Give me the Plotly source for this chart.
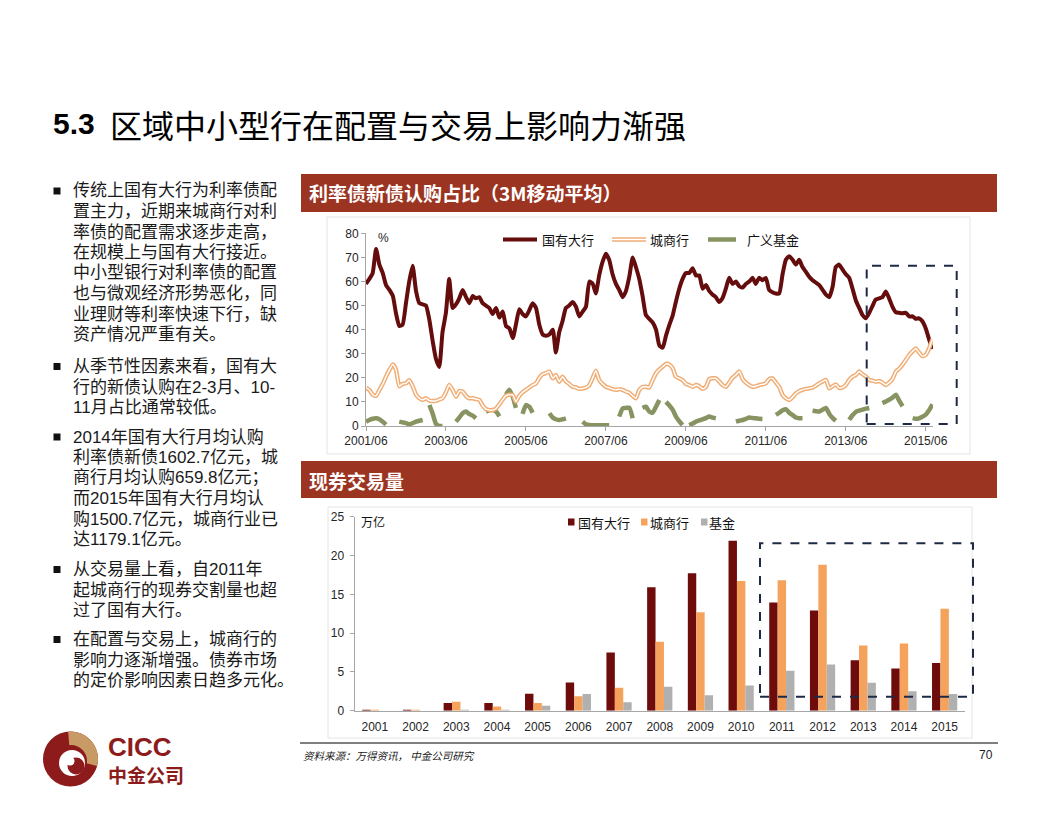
import math
import pandas as pd
import plotly.graph_objects as go

W, H = 1056, 816
# the page body keeps its default 8px margin, so the figure sits 8px in from the window corner
OX, OY = 8, 8


def px(x):
    return (x - OX) / W


def py(y):
    return 1 - (y - OY) / H


N = None

# ---------------- data: top chart (3M moving average share, %) ----------------
months = pd.date_range("2001-06-01", periods=171, freq="MS")

big_banks = [
    59, 61, 63.5, 73.5, 67, 63.5, 58.5, 56.5, 54, 47, 41.5, 42,
    51, 60, 66.5, 56, 51, 50.5, 50, 44, 35, 28, 24.5, 39,
    47, 61, 49, 50.5, 53, 56.5, 53.5, 51, 54, 53, 53.5, 51,
    50, 49, 46.5, 49, 45, 47.5, 41.5, 40.5, 36.5, 42, 48.5, 46.5,
    45.5, 48, 51, 49, 42, 38, 37.5, 38, 40, 30.5, 39, 43.5,
    49, 50, 51.5, 49.5, 45.5, 47.5, 49.5, 60, 59, 55, 62.5, 68,
    71.5, 69, 63, 59, 56.5, 53.5, 56, 62, 70, 66, 61, 54,
    46, 44.5, 43, 40, 33.5, 32.5, 37.5, 42, 46, 51.5, 57, 61,
    63.5, 63.5, 65.5, 62.5, 62.5, 57, 58.5, 56, 54.5, 53.5, 51.5, 53,
    57, 61.5, 59, 60, 58, 57.5, 59, 60, 61.5, 59, 61.5, 60.5,
    61.5, 56.5, 55.5, 55, 55, 63, 69, 70.5, 69, 67, 69, 66,
    64, 62, 60.5, 59.5, 58.5, 56.5, 54.5, 53.5, 58, 66, 67, 65,
    63, 61.5, 57, 52, 49, 46, 44.7, 47, 50, 52.5, 53, 53.5,
    55.8, 53, 49.5, 47.2, 47, 46.8, 47, 45.5, 45.5, 44.5, 44.7, 43.5,
    40.5, 36, 32,
]

city_banks = [
    16, 15, 13, 12.5, 15, 17.5, 20.5, 23.3, 25.6, 23.5, 16.5, 17.5,
    17.7, 19, 16.5, 13, 11.5, 10.8, 11.5, 10.5, 10.4, 10.4, 11, 11.5,
    14, 17, 15, 12.2, 14.5, 14.3, 12.5, 11.5, 11.5, 11.2, 10.8, 8.5,
    7, 6.6, 6.6, 7.3, 9, 11, 12.6, 13, 12.9, 10.1, 12.5, 14,
    15, 16, 17, 17.7, 20, 21.5, 22, 22.6, 19.8, 21.2, 18.4, 20.5,
    18.5, 17.5, 16.3, 16, 15.4, 15.6, 15.9, 17, 20, 23, 19.1, 17.5,
    16.3, 15.8, 15.3, 15, 15.3, 15, 14.3, 13.8, 12.5, 11.5, 15, 16.2,
    16.3, 16, 19, 21.9, 23.5, 24.6, 25.8, 25.5, 23.9, 20.5, 19.8, 19.1,
    17.5, 17, 16.3, 17, 16.5, 15.4, 16.3, 19.5, 19.8, 19.8, 18.5, 17,
    16.3, 18, 20, 21.2, 22.6, 19.5, 18, 17, 16.3, 16.5, 17, 17.3,
    17.7, 19.5, 19.8, 18, 16.3, 12.9, 11.5, 10.8, 12, 13.5, 14.5, 15,
    15.4, 15.6, 15.9, 16.8, 17.7, 18.5, 19.1, 15.6, 16.5, 17.3, 15.8, 16,
    17, 19.1, 20.5, 21.2, 22.6, 21.5, 20.5, 19.1, 18.8, 18.4, 18.7, 18,
    17, 18, 19.5, 22.6, 23.8, 25.5, 27.4, 29.5, 31, 32.2, 30.5, 29,
    29.5, 32.2, 36,
]

broad_funds = [
    1.8, 2.5, 3, 3.2, 2.8, 1.8, 0.6, N, N, N, 1.8, 1.5,
    1.2, 0.7, 1.2, 1.8, 2.2, 2.5, N, 8.7, 5, 1, 0, 0,
    N, N, N, 1.8, 3.5, 5.3, 6, 5, 4.3, 3.2, N, N,
    6, 6.5, 6.6, 6, 4, N, 13, 15, 12, 7.5, N, 5,
    8.7, 8, 5.5, N, N, N, N, 5.3, 3.5, 2.8, 2.5, 2.8,
    3.2, N, N, N, N, 1.8, 0.7, 0.4, 0.3, 0.3, 0.3, 0.3,
    0.3, 0.3, N, N, 3.9, 7.3, 7.5, 7.6, 3.2, N, N, 7.5,
    8, 6, 5.5, 8, 10.8, N, 10, 8.5, 6.7, 4, 2, 0.4,
    N, 0.4, 1, 1.8, 2.3, 2.8, 3.3, 3.9, 3.5, 3.2, N, N,
    N, N, N, 1.8, 2.2, 2.5, 3, 3.5, 3.3, 3.2, 3, 2.9,
    N, N, N, 4.6, 5.5, 6.5, 7, 5.5, 4.5, 3.5, 3.2, 3.2,
    N, N, 6.3, 6.1, 6, 6.8, 7.5, 5, 3.3, 2.2, N, N,
    N, 2.6, 4.5, 5.9, 6.4, 6.8, 7.2, 7.5, N, N, N, 9.5,
    10.2, 10.9, 11.8, 13, 10.5, 8.2, N, N, 3.3, 3, 3.2, 3.8,
    4.7, 6.5, 9,
]

top_tick_labels = ["2001/06", "2003/06", "2005/06", "2007/06",
                   "2009/06", "2011/06", "2013/06", "2015/06"]
top_tick_vals = [t.replace("/", "-") + "-01" for t in top_tick_labels]

# ---------------- data: bottom chart (spot trading volume, 万亿) ----------------
years = ["2001", "2002", "2003", "2004", "2005", "2006", "2007", "2008",
         "2009", "2010", "2011", "2012", "2013", "2014", "2015"]
vol_big = [0.02, 0.1, 1.0, 1.0, 2.2, 3.65, 7.5, 15.9, 17.7, 21.9, 13.95, 12.9, 6.5, 5.45, 6.15]
vol_city = [0.01, 0.04, 1.15, 0.55, 1.0, 1.85, 2.95, 8.9, 12.7, 16.7, 16.8, 18.8, 8.4, 8.65, 13.15]
vol_fund = [0.0, 0.0, 0.05, 0.1, 0.65, 2.15, 1.1, 3.1, 2.0, 3.25, 5.15, 5.95, 3.6, 2.5, 2.15]

# ---------------- styles ----------------
RED = "#650D0D"
ORANGE_LINE = "#F0AE76"
GREEN = "#879462"
BAR_RED = "#6E0B0B"
BAR_ORANGE = "#F5A25C"
BAR_GRAY = "#B0B0B0"
HEADER = "#9B3522"
NAVY = "#1E2A45"
AXIS = "#A6A6A6"
CJK = "Noto Sans CJK SC"
LAT = "Liberation Sans"
MIX = "Liberation Sans, Noto Sans CJK SC"

fig = go.Figure()

# top chart traces
fig.add_trace(go.Scatter(x=months, y=broad_funds, mode="lines", connectgaps=False,
                         line=dict(color=GREEN, width=4.5, shape="spline", smoothing=0.5),
                         xaxis="x", yaxis="y", showlegend=False, name="广义基金"))
fig.add_trace(go.Scatter(x=months, y=big_banks, mode="lines",
                         line=dict(color=RED, width=4, shape="spline", smoothing=0.5),
                         xaxis="x", yaxis="y", showlegend=False, name="国有大行"))
fig.add_trace(go.Scatter(x=months, y=city_banks, mode="lines",
                         line=dict(color=ORANGE_LINE, width=4.4, shape="spline", smoothing=0.5),
                         xaxis="x", yaxis="y", showlegend=False, name="城商行"))
fig.add_trace(go.Scatter(x=months, y=city_banks, mode="lines",
                         line=dict(color="white", width=1.4, shape="spline", smoothing=0.5),
                         xaxis="x", yaxis="y", showlegend=False, hoverinfo="skip"))

# bottom chart traces
for vals, col, name in [(vol_big, BAR_RED, "国有大行"), (vol_city, BAR_ORANGE, "城商行"),
                        (vol_fund, BAR_GRAY, "基金")]:
    fig.add_trace(go.Bar(x=years, y=vals, marker=dict(color=col, line=dict(width=0)),
                         xaxis="x2", yaxis="y2", showlegend=False, name=name))

tickfont = dict(family=LAT, size=12, color="#262626")
common = dict(showline=True, linecolor=AXIS, linewidth=1, showgrid=False,
              zeroline=False, tickfont=tickfont, automargin=False)

fig.update_layout(
    width=W, height=H, autosize=False,
    margin=dict(l=0, r=0, t=0, b=0, pad=0, autoexpand=False),
    paper_bgcolor="white", plot_bgcolor="white",
    bargap=0.38, bargroupgap=0, barmode="group",
    xaxis=dict(domain=[px(366), px(933)], type="date",
               range=["2001-06-01", "2015-08-06"],
               tickvals=top_tick_vals, ticktext=top_tick_labels,
               ticks="outside", ticklen=4, tickcolor=AXIS, anchor="y", **common),
    yaxis=dict(domain=[py(426), py(233.3)], range=[0, 80], dtick=10,
               ticks="outside", ticklen=4, tickcolor=AXIS, anchor="x", **common),
    xaxis2=dict(domain=[px(354.5), px(965)], type="category",
                categoryorder="array", categoryarray=years,
                ticks="outside", ticklen=5, tickcolor="rgba(0,0,0,0)",
                anchor="y2", **common),
    yaxis2=dict(domain=[py(710.7), py(516.7)], range=[0, 25], dtick=5,
                ticks="outside", ticklen=4, tickcolor=AXIS, ticklabelstandoff=3,
                anchor="x2", **common),
)

shapes = []


def rect(x0, y0, x1, y1, **kw):
    d = dict(type="rect", xref="paper", yref="paper",
             x0=px(x0), x1=px(x1), y0=py(y1), y1=py(y0))
    d.update(kw)
    shapes.append(d)


def hline(x0, x1, y, color, width, dash="solid"):
    shapes.append(dict(type="line", xref="paper", yref="paper",
                       x0=px(x0), x1=px(x1), y0=py(y), y1=py(y),
                       line=dict(color=color, width=width, dash=dash)))


# chart frames
rect(327, 217, 970, 454, line=dict(color="#E4E4E4", width=1), layer="below")
rect(328, 507, 972, 738, line=dict(color="#E4E4E4", width=1), layer="below")
# headers
rect(301, 174, 997, 212, fillcolor=HEADER, line=dict(width=0))
rect(301, 461, 997, 498, fillcolor=HEADER, line=dict(width=0))
# dashed highlight boxes
rect(866.7, 265.7, 956.7, 424, line=dict(color=NAVY, width=2, dash="dash"))
rect(760, 543.3, 973, 696.7, line=dict(color=NAVY, width=2, dash="dash"))
# footer rule
hline(300, 998, 743, "#000000", 1)
# top legend samples
hline(503, 537, 239.5, RED, 4)
hline(612, 646, 239.5, ORANGE_LINE, 4.4)
hline(612, 646, 239.5, "white", 1.4)
hline(708, 736, 239.5, GREEN, 4.5)
# bottom legend squares
rect(568, 518.5, 574.5, 525.5, fillcolor=BAR_RED, line=dict(width=0))
rect(641, 518.5, 647.5, 525.5, fillcolor=BAR_ORANGE, line=dict(width=0))
rect(701, 518.5, 707.5, 525.5, fillcolor=BAR_GRAY, line=dict(width=0))
# bullets
bullet_y = [191, 366.5, 437, 569.5, 639.5]
for by in bullet_y:
    rect(53.5, by - 3.5, 60.5, by + 3.5, fillcolor="#111111", line=dict(width=0))


# logo
def circle(cx, cy, r, color):
    shapes.append(dict(type="circle", xref="paper", yref="paper",
                       x0=px(cx - r), x1=px(cx + r), y0=py(cy + r), y1=py(cy - r),
                       fillcolor=color, line=dict(width=0)))


LOGO_RED = "#8E1B1B"
LOGO_GOLD = "#C89B66"
circle(70.5, 759, 27.5, LOGO_RED)
pts = [(70.5, 759)]
for i in range(0, 31):
    a = math.radians(-15 + i * (110 / 30))
    pts.append((70.5 + 27.5 * math.cos(a), 759 - 27.5 * math.sin(a)))
path = "M " + " L ".join(f"{px(x):.5f},{py(y):.5f}" for x, y in pts) + " Z"
shapes.append(dict(type="path", xref="paper", yref="paper", path=path,
                   fillcolor=LOGO_GOLD, line=dict(width=0)))
circle(71, 761, 16, LOGO_RED)
circle(72, 763, 13, "white")
circle(76, 766, 8.5, LOGO_RED)
circle(70, 761, 4.5, "white")

fig.update_layout(shapes=shapes)

ann = []


def text(x, y, s, size, color="#111111", family=CJK, xanchor="left", yanchor="middle",
         bold=False, italic=False, align="left"):
    if bold:
        s = f"<b>{s}</b>"
    if italic:
        s = f"<i>{s}</i>"
    ann.append(dict(x=px(x), y=py(y), xref="paper", yref="paper", text=s,
                    showarrow=False, xanchor=xanchor, yanchor=yanchor, align=align,
                    font=dict(family=family, size=size, color=color), borderpad=0))


# title
text(52, 124, "5.3", 30, color="#000000", family=LAT, bold=True)
text(109, 124, "区域中小型行在配置与交易上影响力渐强", 32, color="#000000")

# left bullet texts
bullets = [
    ["传统上国有大行为利率债配", "置主力，近期来城商行对利", "率债的配置需求逐步走高，",
     "在规模上与国有大行接近。", "中小型银行对利率债的配置", "也与微观经济形势恶化，同",
     "业理财等利率快速下行，缺", "资产情况严重有关。"],
    ["从季节性因素来看，国有大", "行的新债认购在2-3月、10-", "11月占比通常较低。"],
    ["2014年国有大行月均认购", "利率债新债1602.7亿元，城", "商行月均认购659.8亿元；",
     "而2015年国有大行月均认", "购1500.7亿元，城商行业已", "达1179.1亿元。"],
    ["从交易量上看，自2011年", "起城商行的现券交割量也超", "过了国有大行。"],
    ["在配置与交易上，城商行的", "影响力逐渐增强。债券市场", "的定价影响因素日趋多元化。"],
]
for by, lines in zip(bullet_y, bullets):
    for i, ln in enumerate(lines):
        text(72, by + i * 20.5, ln, 17, color="#1A1A1A", family=MIX)

# headers
text(308, 193, "利率债新债认购占比（3M移动平均）", 19, color="white", bold=True)
text(308, 480, "现券交易量", 19, color="white", bold=True)

# top chart labels
text(377, 238, "%", 12, color="#262626", family=LAT)
text(541, 239.5, "国有大行", 13)
text(649, 239.5, "城商行", 13)
text(746, 239.5, "广义基金", 13)

# bottom chart labels
text(360, 521, "万亿", 12)
text(577, 522, "国有大行", 13)
text(649, 522, "城商行", 13)
text(708, 522, "基金", 13)

# footer
text(302, 755, "资料来源：万得资讯， 中金公司研究", 10.5, color="#222222", italic=True)
text(994, 755, "70", 12, color="#222222", family=LAT, xanchor="right")

# logo text
text(107, 747, "CICC", 26, color=LOGO_RED, family=LAT, bold=True)
text(107, 776, "中金公司", 19, color=LOGO_RED, family=MIX, bold=True)

fig.update_layout(annotations=ann)

fig.write_html("out.html")
